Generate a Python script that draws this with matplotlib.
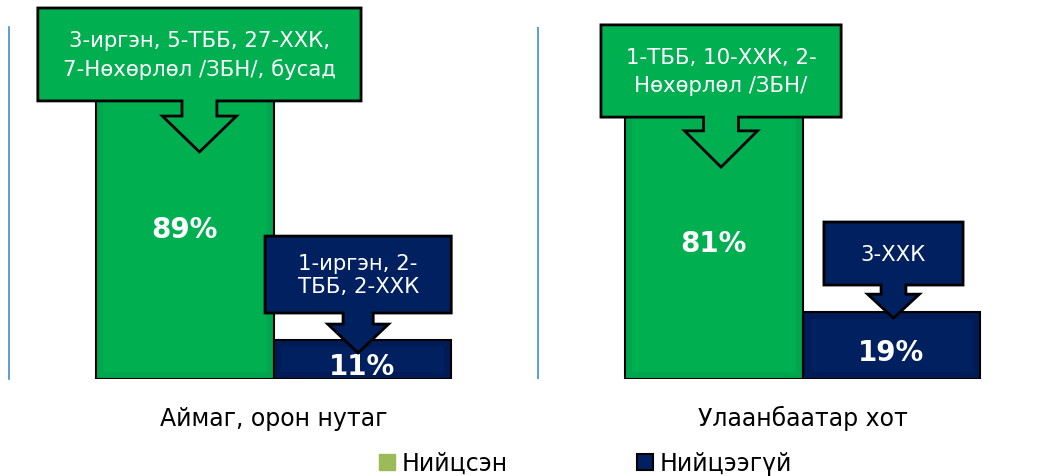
import matplotlib
matplotlib.use('Agg')
import matplotlib.pyplot as plt
from matplotlib.patches import Polygon, Patch, Rectangle

# data
categories = ['Аймаг, орон нутаг', 'Улаанбаатар хот']
series_names = ['Нийцсэн', 'Нийцээгүй']
matched = [89, 81]
not_matched = [11, 19]
callout_texts = [
    '3-иргэн, 5-ТББ, 27-ХХК,\n7-Нөхөрлөл /ЗБН/, бусад',
    '1-иргэн, 2-\nТББ, 2-ХХК',
    '1-ТББ, 10-ХХК, 2-\nНөхөрлөл /ЗБН/',
    '3-ХХК',
]

GREEN = '#00B050'
GREEN_DARK = '#00A64B'
NAVY = '#002060'
NAVY_DARK = '#001B55'
LEGEND_GREEN = '#9BBB59'
AXIS_BLUE = '#3A8FD8'
FONT = 'DejaVu Sans'

plt.rcParams['font.family'] = FONT

W, H = 1055, 477
fig = plt.figure(figsize=(W / 100, H / 100), dpi=100)
ax = fig.add_axes([9 / W, (H - 380) / H, 1058 / W, 352 / H])

bw = 0.335
xs = range(len(categories))
green_bars = ax.bar([x - bw / 2 for x in xs], matched, bw, color=GREEN, edgecolor='none', zorder=3)
navy_bars = ax.bar([x + bw / 2 for x in xs], not_matched, bw, color=NAVY, edgecolor='none', zorder=3)

# subtle darker inner band + black outline, like the original
for bars, dark in [(green_bars, GREEN_DARK), (navy_bars, NAVY_DARK)]:
    for r in bars:
        band = Rectangle(r.get_xy(), r.get_width(), r.get_height(), facecolor='none',
                         edgecolor=dark, linewidth=10, zorder=3.5)
        ax.add_patch(band)
        band.set_clip_path(r)
        ax.add_patch(Rectangle(r.get_xy(), r.get_width(), r.get_height(), facecolor='none',
                               edgecolor='black', linewidth=1.5, zorder=4))

for x, v in zip(xs, matched):
    ax.text(x - bw / 2, v / 2 - 1, f'{v}%', ha='center', va='center_baseline', color='white',
            fontsize=20, fontweight='bold', zorder=5)
for x, v in zip(xs, not_matched):
    ax.text(x + bw / 2, v / 2 - 1, f'{v}%', ha='center', va='center_baseline', color='white',
            fontsize=20, fontweight='bold', zorder=5)

ax.set_xlim(-0.5, 1.5)
ax.set_ylim(0, 100)
for s in ['top', 'right', 'bottom']:
    ax.spines[s].set_visible(False)
ax.spines['left'].set_color(AXIS_BLUE)
ax.spines['left'].set_linewidth(1.2)
ax.axvline(0.5, color=AXIS_BLUE, lw=1.2)
ax.set_yticks([])
ax.set_xticks([])
for x, c in zip(xs, categories):
    ax.text(x, -11, c, ha='center', va='center', fontsize=17, color='black')


# down-arrow callout: center x, box top, box bottom, box width, shaft w, head w, wing y, tip y
def callout(cx, top, bot, w, sw, hw, wy, ty, color, text, ls):
    pts = [(cx - w / 2, top), (cx + w / 2, top), (cx + w / 2, bot), (cx + sw / 2, bot),
           (cx + sw / 2, wy), (cx + hw / 2, wy), (cx, ty), (cx - hw / 2, wy),
           (cx - sw / 2, wy), (cx - sw / 2, bot), (cx - w / 2, bot)]
    ax.add_patch(Polygon(pts, closed=True, facecolor=color, edgecolor='black',
                         linewidth=2, zorder=6, clip_on=False))
    ax.text(cx, (top + bot) / 2, text, ha='center', va='center', color='white',
            fontsize=15.3, linespacing=ls, zorder=7, clip_on=False)


callout(-0.140, 105.4, 79.0, 0.611, 0.066, 0.140, 74.7, 64.5, GREEN, callout_texts[0], 1.45)
callout(0.160, 40.6, 18.75, 0.352, 0.057, 0.115, 15.6, 7.4, NAVY, callout_texts[1], 1.2)
callout(0.846, 100.6, 74.4, 0.454, 0.066, 0.138, 70.5, 60.2, GREEN, callout_texts[2], 1.45)
callout(1.172, 44.6, 26.7, 0.263, 0.047, 0.098, 24.1, 17.3, NAVY, callout_texts[3], 1.2)

handles = [Patch(facecolor=LEGEND_GREEN, edgecolor=LEGEND_GREEN),
           Patch(facecolor=NAVY, edgecolor='black', linewidth=1.5)]
fig.legend(handles, series_names, loc='center', bbox_to_anchor=(0.555, (H - 464) / H),
           ncol=2, frameon=False, fontsize=17, handlelength=0.68, handleheight=0.68,
           handletextpad=0.25, columnspacing=5.5, borderaxespad=0)

fig.savefig('out.png', dpi=100)
